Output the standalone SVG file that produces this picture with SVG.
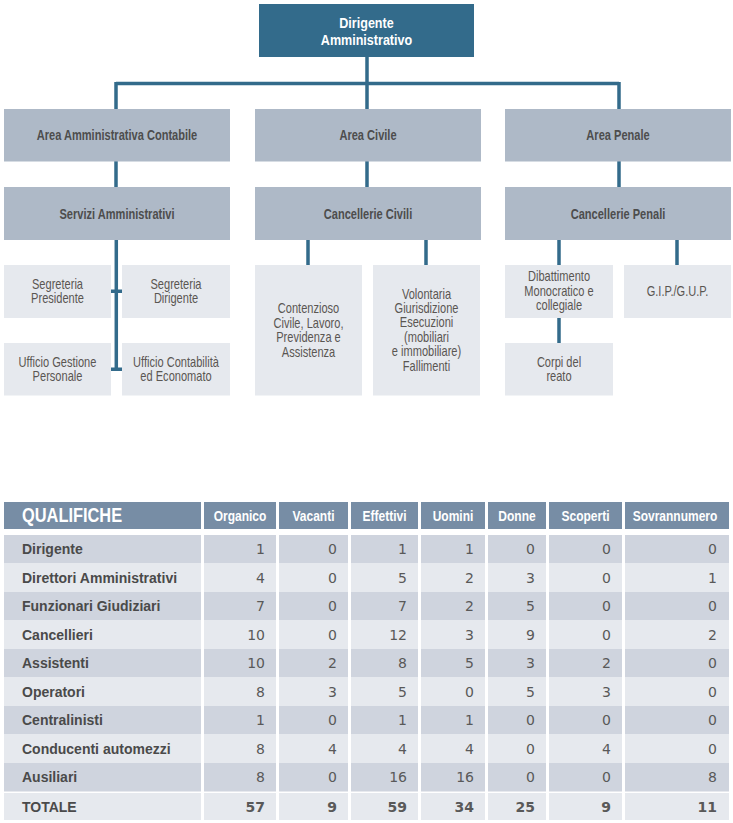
<svg xmlns="http://www.w3.org/2000/svg" width="733" height="823" viewBox="0 0 733 823">
<style>
.top{fill:#336b8b}
.area{fill:#aeb9c7}
.sub{fill:#e6e9ee}
.ln{stroke:#336b8b;stroke-width:3.5;fill:none}
.tw{font-family:"Liberation Sans",Arial,sans-serif;font-weight:bold;font-size:15.5px;fill:#ffffff;text-anchor:middle}
.ta{font-family:"Liberation Sans",Arial,sans-serif;font-weight:bold;font-size:14px;fill:#4d4d4d;text-anchor:middle}
.ts{font-family:"Liberation Sans",Arial,sans-serif;font-size:14px;fill:#5a5652;text-anchor:middle}
.hd{fill:#778da5}
.rd{fill:#cfd4de}
.rl{fill:#e6e9ee}
.th{font-family:"Liberation Sans",Arial,sans-serif;font-weight:bold;font-size:15px;fill:#ffffff;text-anchor:middle}
.tq{font-family:"Liberation Sans",Arial,sans-serif;font-weight:bold;font-size:20px;fill:#ffffff}
.tl{font-family:"Liberation Sans",Arial,sans-serif;font-weight:bold;font-size:14px;fill:#4a4a4a}
.tn{font-family:"DejaVu Sans",Verdana,sans-serif;font-size:14px;fill:#595959;text-anchor:end}
.tb{font-family:"DejaVu Sans",Verdana,sans-serif;font-size:14px;font-weight:bold;fill:#595959;text-anchor:end}
</style>

<g id="connectors">
  <path class="ln" d="M367,57 V83.5 M116,83.5 H619 M116,82 V109 M367,82 V109 M619,82 V109"/>
  <path class="ln" d="M116,161 V187 M367,161 V187 M619,161 V187"/>
  <path class="ln" d="M116.3,240 V370.5 M110.7,291.3 H122 M110.7,369.3 H122"/>
  <path class="ln" d="M308,240 V265 M426,240 V265"/>
  <path class="ln" d="M559,240 V265 M677,240 V265 M559,318 V343"/>
</g>

<g id="dirigente">
  <rect class="top" x="259" y="4" width="215" height="53"/>
  <text class="tw" transform="translate(366.5,28) scale(0.81,1)">Dirigente</text>
  <text class="tw" transform="translate(366.5,44.8) scale(0.81,1)">Amministrativo</text>
</g>

<g id="area-amm">
  <rect class="area" x="4" y="109" width="226" height="52.5"/>
  <text class="ta" transform="translate(117,140) scale(0.79,1)">Area Amministrativa Contabile</text>
</g>
<g id="area-civile">
  <rect class="area" x="255" y="109" width="226" height="52.5"/>
  <text class="ta" transform="translate(368,140) scale(0.79,1)">Area Civile</text>
</g>
<g id="area-penale">
  <rect class="area" x="505" y="109" width="226" height="52.5"/>
  <text class="ta" transform="translate(618,140) scale(0.79,1)">Area Penale</text>
</g>

<g id="servizi">
  <rect class="area" x="4" y="187" width="226" height="53"/>
  <text class="ta" transform="translate(117,218.5) scale(0.79,1)">Servizi Amministrativi</text>
</g>
<g id="canc-civili">
  <rect class="area" x="255" y="187" width="226" height="53"/>
  <text class="ta" transform="translate(368,218.5) scale(0.79,1)">Cancellerie Civili</text>
</g>
<g id="canc-penali">
  <rect class="area" x="505" y="187" width="226" height="53"/>
  <text class="ta" transform="translate(618,218.5) scale(0.79,1)">Cancellerie Penali</text>
</g>

<g id="segr-presidente">
  <rect class="sub" x="4" y="265" width="107" height="53"/>
  <text class="ts" transform="translate(57.5,288.7) scale(0.79,1)">Segreteria</text>
  <text class="ts" transform="translate(57.5,303.3) scale(0.79,1)">Presidente</text>
</g>
<g id="segr-dirigente">
  <rect class="sub" x="122" y="265" width="108" height="53"/>
  <text class="ts" transform="translate(176,288.7) scale(0.79,1)">Segreteria</text>
  <text class="ts" transform="translate(176,303.3) scale(0.79,1)">Dirigente</text>
</g>
<g id="uff-gestione">
  <rect class="sub" x="4" y="343" width="107" height="52.5"/>
  <text class="ts" transform="translate(57.5,366.7) scale(0.79,1)">Ufficio Gestione</text>
  <text class="ts" transform="translate(57.5,381.2) scale(0.79,1)">Personale</text>
</g>
<g id="uff-contabilita">
  <rect class="sub" x="122" y="343" width="108" height="52.5"/>
  <text class="ts" transform="translate(176,366.7) scale(0.79,1)">Ufficio Contabilità</text>
  <text class="ts" transform="translate(176,381.2) scale(0.79,1)">ed Economato</text>
</g>

<g id="contenzioso">
  <rect class="sub" x="255" y="265" width="107" height="130.5"/>
  <text class="ts" transform="translate(308.5,313.3) scale(0.79,1)">Contenzioso</text>
  <text class="ts" transform="translate(308.5,327.7) scale(0.79,1)">Civile, Lavoro,</text>
  <text class="ts" transform="translate(308.5,342.2) scale(0.79,1)">Previdenza e</text>
  <text class="ts" transform="translate(308.5,356.6) scale(0.79,1)">Assistenza</text>
</g>
<g id="volontaria">
  <rect class="sub" x="373" y="265" width="107" height="130.5"/>
  <text class="ts" transform="translate(426.5,298.5) scale(0.79,1)">Volontaria</text>
  <text class="ts" transform="translate(426.5,313) scale(0.79,1)">Giurisdizione</text>
  <text class="ts" transform="translate(426.5,327.4) scale(0.79,1)">Esecuzioni</text>
  <text class="ts" transform="translate(426.5,341.8) scale(0.79,1)">(mobiliari</text>
  <text class="ts" transform="translate(426.5,356.2) scale(0.79,1)">e immobiliare)</text>
  <text class="ts" transform="translate(426.5,370.7) scale(0.79,1)">Fallimenti</text>
</g>

<g id="dibattimento">
  <rect class="sub" x="505" y="265" width="108" height="53"/>
  <text class="ts" transform="translate(559,281.2) scale(0.79,1)">Dibattimento</text>
  <text class="ts" transform="translate(559,295.7) scale(0.79,1)">Monocratico e</text>
  <text class="ts" transform="translate(559,310.2) scale(0.79,1)">collegiale</text>
</g>
<g id="gip-gup">
  <rect class="sub" x="624" y="265" width="107" height="53"/>
  <text class="ts" transform="translate(677.5,295.5) scale(0.79,1)">G.I.P./G.U.P.</text>
</g>
<g id="corpi-reato">
  <rect class="sub" x="505" y="343" width="108" height="52.5"/>
  <text class="ts" transform="translate(559,366.7) scale(0.79,1)">Corpi del</text>
  <text class="ts" transform="translate(559,381.2) scale(0.79,1)">reato</text>
</g>

<g id="table">
  <rect class="hd" x="4" y="502" width="725" height="27"/>
  <rect class="rd" x="4" y="535" width="725" height="28.5"/>
  <rect class="rl" x="4" y="563.5" width="725" height="28.5"/>
  <rect class="rd" x="4" y="592" width="725" height="28.5"/>
  <rect class="rl" x="4" y="620.5" width="725" height="28.5"/>
  <rect class="rd" x="4" y="649" width="725" height="28.5"/>
  <rect class="rl" x="4" y="677.5" width="725" height="28.5"/>
  <rect class="rd" x="4" y="706" width="725" height="28.5"/>
  <rect class="rl" x="4" y="734.5" width="725" height="28.5"/>
  <rect class="rd" x="4" y="763" width="725" height="28.5"/>
  <rect class="rl" x="4" y="793" width="725" height="27"/>
  <g fill="#ffffff">
    <rect x="201" y="500" width="3" height="322"/>
    <rect x="276" y="500" width="3" height="322"/>
    <rect x="348" y="500" width="3" height="322"/>
    <rect x="418" y="500" width="3" height="322"/>
    <rect x="485" y="500" width="3" height="322"/>
    <rect x="546" y="500" width="3" height="322"/>
    <rect x="622" y="500" width="3" height="322"/>
  </g>
  <text class="tq" transform="translate(22,522) scale(0.82,1)">QUALIFICHE</text>
  <text class="th" transform="translate(240,521) scale(0.8,1)">Organico</text>
  <text class="th" transform="translate(313.5,521) scale(0.8,1)">Vacanti</text>
  <text class="th" transform="translate(384.5,521) scale(0.8,1)">Effettivi</text>
  <text class="th" transform="translate(453,521) scale(0.8,1)">Uomini</text>
  <text class="th" transform="translate(517,521) scale(0.8,1)">Donne</text>
  <text class="th" transform="translate(585.5,521) scale(0.8,1)">Scoperti</text>
  <text class="th" transform="translate(675,521) scale(0.8,1)">Sovrannumero</text>

  <g class="tl">
    <text x="22" y="554">Dirigente</text>
    <text x="22" y="582.5">Direttori Amministrativi</text>
    <text x="22" y="611">Funzionari Giudiziari</text>
    <text x="22" y="639.5">Cancellieri</text>
    <text x="22" y="668">Assistenti</text>
    <text x="22" y="696.5">Operatori</text>
    <text x="22" y="725">Centralinisti</text>
    <text x="22" y="753.5">Conducenti automezzi</text>
    <text x="22" y="782">Ausiliari</text>
    <text x="22" y="811.5">TOTALE</text>
  </g>

  <g class="tn">
    <text x="265" y="554">1</text><text x="337" y="554">0</text><text x="407" y="554">1</text><text x="474" y="554">1</text><text x="535" y="554">0</text><text x="611" y="554">0</text><text x="717" y="554">0</text>
    <text x="265" y="582.5">4</text><text x="337" y="582.5">0</text><text x="407" y="582.5">5</text><text x="474" y="582.5">2</text><text x="535" y="582.5">3</text><text x="611" y="582.5">0</text><text x="717" y="582.5">1</text>
    <text x="265" y="611">7</text><text x="337" y="611">0</text><text x="407" y="611">7</text><text x="474" y="611">2</text><text x="535" y="611">5</text><text x="611" y="611">0</text><text x="717" y="611">0</text>
    <text x="265" y="639.5">10</text><text x="337" y="639.5">0</text><text x="407" y="639.5">12</text><text x="474" y="639.5">3</text><text x="535" y="639.5">9</text><text x="611" y="639.5">0</text><text x="717" y="639.5">2</text>
    <text x="265" y="668">10</text><text x="337" y="668">2</text><text x="407" y="668">8</text><text x="474" y="668">5</text><text x="535" y="668">3</text><text x="611" y="668">2</text><text x="717" y="668">0</text>
    <text x="265" y="696.5">8</text><text x="337" y="696.5">3</text><text x="407" y="696.5">5</text><text x="474" y="696.5">0</text><text x="535" y="696.5">5</text><text x="611" y="696.5">3</text><text x="717" y="696.5">0</text>
    <text x="265" y="725">1</text><text x="337" y="725">0</text><text x="407" y="725">1</text><text x="474" y="725">1</text><text x="535" y="725">0</text><text x="611" y="725">0</text><text x="717" y="725">0</text>
    <text x="265" y="753.5">8</text><text x="337" y="753.5">4</text><text x="407" y="753.5">4</text><text x="474" y="753.5">4</text><text x="535" y="753.5">0</text><text x="611" y="753.5">4</text><text x="717" y="753.5">0</text>
    <text x="265" y="782">8</text><text x="337" y="782">0</text><text x="407" y="782">16</text><text x="474" y="782">16</text><text x="535" y="782">0</text><text x="611" y="782">0</text><text x="717" y="782">8</text>
  </g>
  <g class="tb">
    <text x="265" y="811.5">57</text><text x="337" y="811.5">9</text><text x="407" y="811.5">59</text><text x="474" y="811.5">34</text><text x="535" y="811.5">25</text><text x="611" y="811.5">9</text><text x="717" y="811.5">11</text>
  </g>
</g>
</svg>
